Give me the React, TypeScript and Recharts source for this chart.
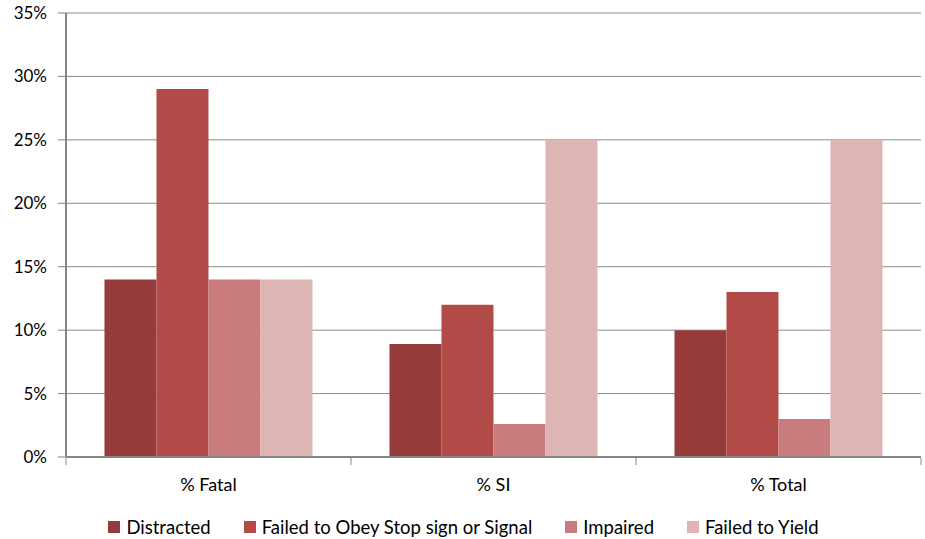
import React from "react";
import { BarChart, Bar, XAxis, YAxis, CartesianGrid } from "recharts";

const categories = ["% Fatal", "% SI", "% Total"];
const distracted = [14, 8.9, 10];
const failedToObey = [29, 12, 13];
const impaired = [14, 2.6, 3];
const failedToYield = [14, 25, 25];
const yTicks = [0, 5, 10, 15, 20, 25, 30, 35];

const seriesNames = ["Distracted", "Failed to Obey Stop sign or Signal", "Impaired", "Failed to Yield"];
const seriesColors = ["#963B3A", "#B24B47", "#C97C7B", "#DEB5B5"];
const seriesValues = [distracted, failedToObey, impaired, failedToYield];

const data = categories.map((c, i) => ({
  name: c,
  s0: seriesValues[0][i],
  s1: seriesValues[1][i],
  s2: seriesValues[2][i],
  s3: seriesValues[3][i],
}));

const W = 925;
const H = 539;
const xAxisHeight = 40;
const margin = { top: 13, right: 4, left: 0, bottom: 42 };
const yAxisWidth = 66;
const plotWidth = W - margin.right - yAxisWidth;
const halfBand = plotWidth / categories.length / 2;
const FONT = "Lato, 'Liberation Sans', sans-serif";

const XTick = (props: any) => {
  const { x, y, payload, index } = props;
  return (
    <g>
      <line x1={x - halfBand} y1={y - 7} x2={x - halfBand} y2={y} stroke="#868686" strokeWidth={1} />
      {index === categories.length - 1 && (
        <line x1={x + halfBand} y1={y - 7} x2={x + halfBand} y2={y} stroke="#868686" strokeWidth={1} />
      )}
      <text x={x} y={y + 26} textAnchor="middle" fontSize={18} fill="#000" fontFamily={FONT}>
        {payload.value}
      </text>
    </g>
  );
};

const LegendRow = () => (
  <div
    style={{
      position: "absolute",
      left: 0,
      top: 515,
      width: W,
      display: "flex",
      justifyContent: "center",
      fontFamily: FONT,
      fontSize: 18.5,
      lineHeight: "24px",
      color: "#000",
      paddingLeft: 2,
      boxSizing: "border-box",
    }}
  >
    {seriesNames.map((n, i) => (
      <div key={n} style={{ display: "flex", alignItems: "center", marginRight: i < seriesNames.length - 1 ? 33 : 0 }}>
        <span style={{ display: "inline-block", width: 12, height: 12, background: seriesColors[i], marginRight: 6 }} />
        <span>{n}</span>
      </div>
    ))}
  </div>
);

export default function App() {
  return (
    <div style={{ position: "absolute", left: 0, top: 0, width: W, height: H, background: "#fff" }}>
      <BarChart
        width={W}
        height={H}
        data={data}
        margin={margin}
        barCategoryGap="13.5%"
        barGap={0}
      >
        <CartesianGrid horizontal vertical={false} stroke="#8C8C8C" strokeWidth={1} />
        <XAxis
          dataKey="name"
          height={xAxisHeight}
          axisLine={{ stroke: "#868686", strokeWidth: 2 }}
          tickLine={false}
          tick={<XTick />}
          interval={0}
        />
        <YAxis
          width={yAxisWidth}
          domain={[0, 35]}
          ticks={yTicks}
          interval={0}
          tickFormatter={(v: number) => `${v}%`}
          axisLine={{ stroke: "#868686", strokeWidth: 2 }}
          tickLine={{ stroke: "#868686" }}
          tickSize={8}
          tickMargin={11}
          tick={{ fontSize: 17, fill: "#000", fontFamily: FONT }}
        />
        {seriesNames.map((n, i) => (
          <Bar key={n} dataKey={`s${i}`} name={n} fill={seriesColors[i]} isAnimationActive={false} />
        ))}
      </BarChart>
      <LegendRow />
    </div>
  );
}
